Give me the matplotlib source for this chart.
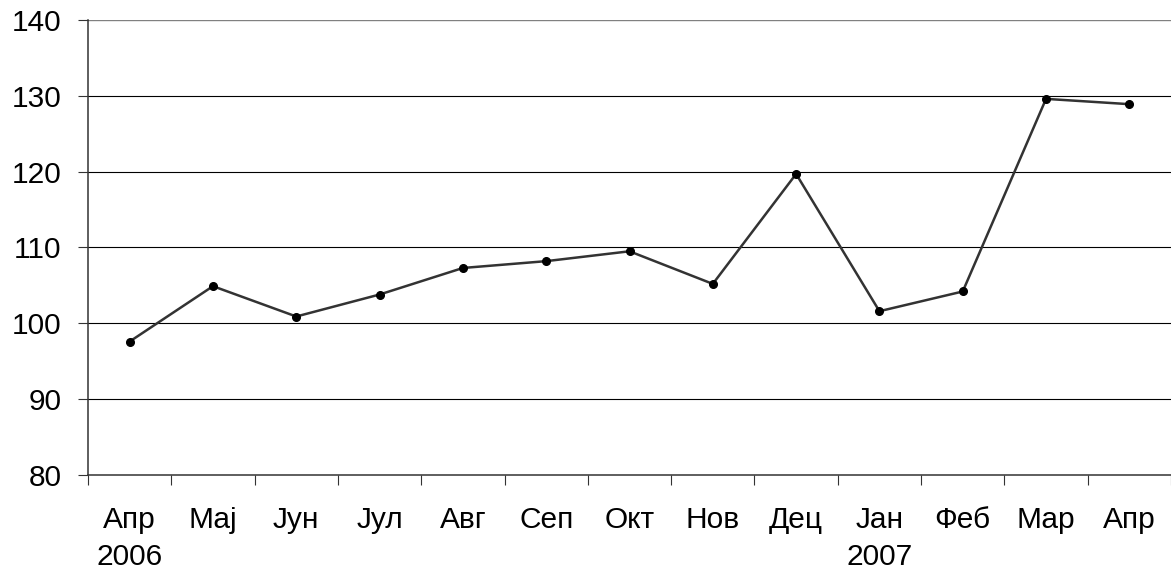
import matplotlib
matplotlib.use("Agg")
import matplotlib.pyplot as plt
import numpy as np

months = ["Апр\n2006", "Мај", "Јун", "Јул", "Авг", "Сеп", "Окт", "Нов", "Дец",
          "Јан\n2007", "Феб", "Мар", "Апр"]
values = [97.6, 104.9, 100.9, 103.8, 107.3, 108.2, 109.5, 105.2, 119.7,
          101.6, 104.2, 129.6, 128.9]
yticks = [80, 90, 100, 110, 120, 130, 140]

plt.rcParams['font.family'] = ['Liberation Sans', 'DejaVu Sans']

fig = plt.figure(figsize=(11.71, 5.76), dpi=100)
ax = fig.add_axes([88/1171, 1-475/576, (1171-88)/1171, (475-20)/576])

x = np.arange(len(months))
ax.set_xlim(-0.5, len(months) - 0.5)
ax.set_ylim(80, 140)

for yv in yticks[1:-1]:
    ax.axhline(yv, color='black', lw=0.8, zorder=1)
ax.axhline(140, color='#808080', lw=1.0, zorder=1)

ax.plot(x, values, color='#333333', lw=1.8, marker='o', markersize=5.5,
        markerfacecolor='black', markeredgecolor='black', zorder=3, clip_on=False)

ax.set_yticks(yticks)
ax.set_yticklabels([str(v) for v in yticks])
ax.tick_params(axis='y', direction='out', length=7.5, width=0.8, color='#333333',
               pad=11.5, labelsize=21.5)

ax.set_xticks(np.arange(-0.5, len(months) - 0.5 + 0.01, 1.0))
ax.set_xticklabels([])
ax.set_xticks(x, minor=True)
ax.set_xticklabels(months, minor=True, linespacing=1.45)
ax.tick_params(axis='x', which='major', direction='out', length=7.5, width=0.8, color='#333333')
ax.tick_params(axis='x', which='minor', length=0, pad=22, labelsize=21.5)

for s in ['top', 'right']:
    ax.spines[s].set_visible(False)
ax.spines['left'].set_color('#333333')
ax.spines['left'].set_linewidth(1.1)
ax.spines['bottom'].set_color('#333333')
ax.spines['bottom'].set_linewidth(1.1)

fig.savefig("out.png", dpi=100)
